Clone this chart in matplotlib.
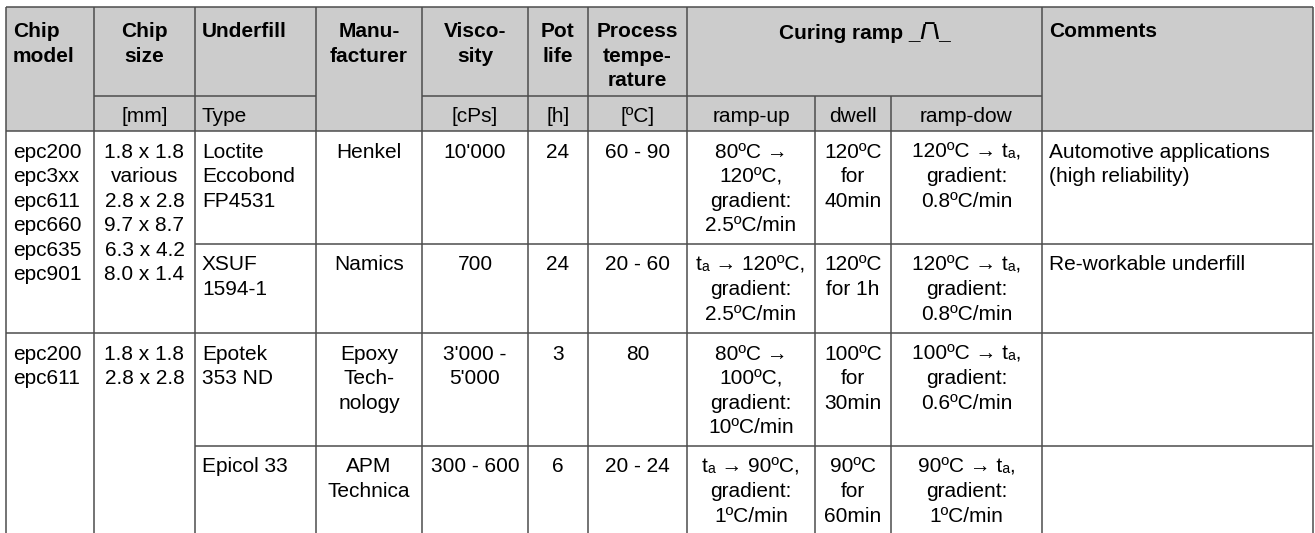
import matplotlib.pyplot as plt
from matplotlib.patches import Rectangle

plt.rcParams['font.family'] = ['Liberation Sans', 'DejaVu Sans']

# table content
header_top = ["Chip\nmodel", "Chip\nsize", "Underfill", "Manu-\nfacturer",
              "Visco-\nsity", "Pot\nlife", "Process\ntempe-\nrature"]
header_curing = "Curing ramp _/\u203e\\_"
header_comments = "Comments"
header_units = ["", "[mm]", "Type", "", "[cPs]", "[h]", "[ºC]",
                "ramp-up", "dwell", "ramp-dow", ""]

group_models = ["epc200\nepc3xx\nepc611\nepc660\nepc635\nepc901",
                "epc200\nepc611"]
group_sizes = ["1.8 x 1.8\nvarious\n2.8 x 2.8\n9.7 x 8.7\n6.3 x 4.2\n8.0 x 1.4",
               "1.8 x 1.8\n2.8 x 2.8"]

underfill = ["Loctite\nEccobond\nFP4531", "XSUF\n1594-1", "Epotek\n353 ND", "Epicol 33"]
manufacturer = ["Henkel", "Namics", "Epoxy\nTech-\nnology", "APM\nTechnica"]
viscosity = ["10'000", "700", "3'000 -\n5'000", "300 - 600"]
pot_life = ["24", "24", "3", "6"]
process_temp = ["60 - 90", "20 - 60", "80", "20 - 24"]
ramp_up = ["80ºC →\n120ºC,\ngradient:\n2.5ºC/min",
           "tₐ → 120ºC,\ngradient:\n2.5ºC/min",
           "80ºC →\n100ºC,\ngradient:\n10ºC/min",
           "tₐ → 90ºC,\ngradient:\n1ºC/min"]
dwell = ["120ºC\nfor\n40min", "120ºC\nfor 1h", "100ºC\nfor\n30min", "90ºC\nfor\n60min"]
ramp_down = ["120ºC → tₐ,\ngradient:\n0.8ºC/min",
             "120ºC → tₐ,\ngradient:\n0.8ºC/min",
             "100ºC → tₐ,\ngradient:\n0.6ºC/min",
             "90ºC → tₐ,\ngradient:\n1ºC/min"]
comments = ["Automotive applications\n(high reliability)", "Re-workable underfill", "", ""]

# layout in pixels
W, H = 1315, 533
cols = [6, 94, 195, 316, 422, 528, 588, 687, 815, 891, 1042, 1313]
top, sub, head_bot = 7, 96, 131
rows = [131, 244, 333, 446, 533]
LC = '#4d4d4d'
LW = 1.1
FS = 15
LS = 1.37

fig = plt.figure(figsize=(W / 100, H / 100), dpi=100)
ax = fig.add_axes([0, 0, 1, 1])
ax.set_xlim(0, W)
ax.set_ylim(H, 0)
ax.axis('off')

ax.add_patch(Rectangle((cols[0], top), cols[-1] - cols[0], head_bot - top,
                       facecolor='#cccccc', edgecolor='none'))


def cell_text(txt, c0, c1, y, align, bold=False):
    if align == 'left':
        x = cols[c0] + 7
    else:
        x = (cols[c0] + cols[c1]) / 2
    ax.text(x, y, txt, ha=align, va='top', fontsize=FS, linespacing=LS,
            fontweight='bold' if bold else 'normal', multialignment=align)


# header
head_align = ['left', 'center', 'left', 'center', 'center', 'center', 'center']
for i, t in enumerate(header_top):
    cell_text(t, i, i + 1, top + 15, head_align[i], bold=True)
cell_text(header_curing, 7, 10, top + 15, 'center', bold=True)
cell_text(header_comments, 10, 11, top + 15, 'left', bold=True)
for i, t in enumerate(header_units):
    if t:
        cell_text(t, i, i + 1, sub + 11, 'left' if t == "Type" else 'center')

# body
pad = 11.5
for g in range(2):
    cell_text(group_models[g], 0, 1, rows[2 * g] + pad, 'left')
    cell_text(group_sizes[g], 1, 2, rows[2 * g] + pad, 'center')
body_cols = [underfill, manufacturer, viscosity, pot_life, process_temp,
             ramp_up, dwell, ramp_down, comments]
body_align = ['left'] + ['center'] * 7 + ['left']
for r in range(4):
    for j, col in enumerate(body_cols):
        if col[r]:
            cell_text(col[r], j + 2, j + 3, rows[r] + pad, body_align[j])

# grid lines
ax.hlines(top, cols[0], cols[-1], color=LC, lw=LW)
ax.hlines(sub, cols[1], cols[3], color=LC, lw=LW)
ax.hlines(sub, cols[4], cols[10], color=LC, lw=LW)
ax.hlines(head_bot, cols[0], cols[-1], color=LC, lw=LW)
ax.hlines([rows[1], rows[3]], cols[2], cols[-1], color=LC, lw=LW)
ax.hlines(rows[2], cols[0], cols[-1], color=LC, lw=LW)
for i, x in enumerate(cols):
    y0 = sub if i in (8, 9) else top
    ax.vlines(x, y0, H, color=LC, lw=LW)

fig.savefig('out.png', dpi=100)
